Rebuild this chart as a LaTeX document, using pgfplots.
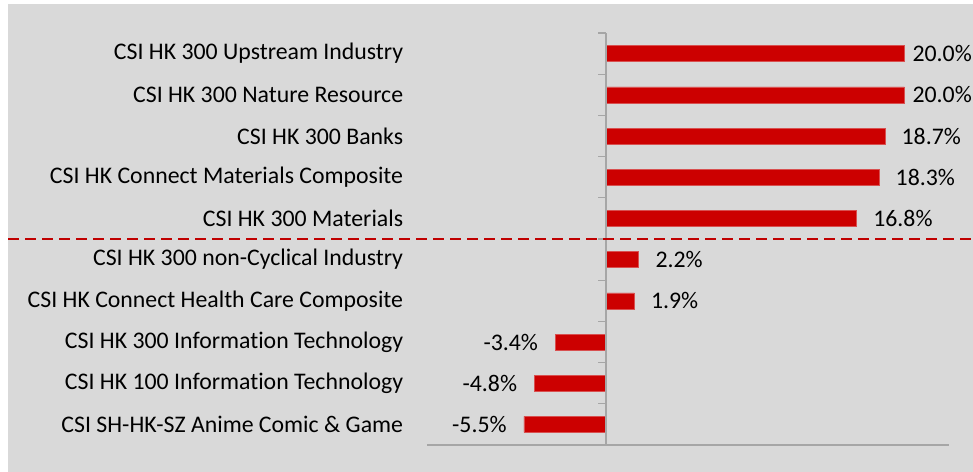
\documentclass[border=0pt]{standalone}
\usepackage{pgfplots}
\pgfplotsset{compat=1.18}
\usepackage{fontspec}
\setmainfont{Carlito}[Ligatures={NoCommon}]
\definecolor{bg}{HTML}{D9D9D9}
\definecolor{barred}{HTML}{CC0000}
\definecolor{baredge}{HTML}{D85050}
\definecolor{axgray}{HTML}{A6A6A6}
\definecolor{dashred}{HTML}{C00000}
\newcommand\lbl{\fontsize{23.8bp}{28bp}\selectfont}

\begin{document}
\begin{tikzpicture}
\fill[bg] (8bp,0) rectangle (973bp,468bp);
\begin{axis}[
    at={(427bp,27bp)}, anchor=south west,
    scale only axis, width=522bp, height=412bp,
    xbar, bar width=16bp, bar shift=0pt,
    xmin=-12, xmax=23,
    ymin=-0.5, ymax=9.5, y dir=reverse,
    axis line style={draw=none},
    xtick=\empty,
    ytick={0,...,9},
    yticklabels={
      CSI HK 300 Upstream Industry,
      CSI HK 300 Nature Resource,
      CSI HK 300 Banks,
      CSI HK Connect Materials Composite,
      CSI HK 300 Materials,
      CSI HK 300 non-Cyclical Industry,
      CSI HK Connect Health Care Composite,
      CSI HK 300 Information Technology,
      CSI HK 100 Information Technology,
      CSI SH-HK-SZ Anime Comic \& Game
    },
    major tick length=0pt,
    yticklabel style={anchor=east, inner sep=0pt, xshift=-23.7bp, font=\lbl},
    point meta=explicit symbolic,
    nodes near coords,
    every node near coord/.append style={font=\lbl, text=black, inner sep=0pt},
    clip=false,
]
% 20.0% labels sit closer to the bar (pushed inside the chart area)
\addplot[fill=barred, draw=baredge, line width=0.6bp,
    every node near coord/.append style={anchor=west, xshift=8bp}]
  coordinates {(20.0,0) [20.0\%] (20.0,1) [20.0\%]};
\addplot[fill=barred, draw=baredge, line width=0.6bp,
    every node near coord/.append style={anchor=west, xshift=16.5bp}]
  coordinates {(18.7,2) [18.7\%] (18.3,3) [18.3\%] (16.8,4) [16.8\%]
               (2.2,5) [2.2\%] (1.9,6) [1.9\%]};
\addplot[fill=barred, draw=baredge, line width=0.6bp,
    every node near coord/.append style={anchor=east, xshift=-17bp}]
  coordinates {(-3.4,7) [-3.4\%] (-4.8,8) [-4.8\%] (-5.5,9) [-5.5\%]};

% category axis at zero with boundary ticks
\draw[axgray, line width=1.5bp] (axis cs:0,-0.5) -- (axis cs:0,9.5);
\pgfplotsinvokeforeach{-0.5,0.5,1.5,2.5,3.5,4.5,5.5,6.5,7.5,8.5,9.5}{
  \draw[axgray, line width=1.2bp] (axis cs:0,#1) -- ([xshift=-8bp]axis cs:0,#1);
}
% value axis along the bottom
\draw[axgray, line width=2bp] (axis cs:-12,9.5) -- (axis cs:23,9.5);
\end{axis}
% divider between the top five and the rest
\draw[dashred, line width=2bp, dash pattern=on 11bp off 6bp] (8bp,233bp) -- (973bp,233bp);
\pgfresetboundingbox
\useasboundingbox (0,0) rectangle (973bp,472bp);
\end{tikzpicture}
\end{document}
